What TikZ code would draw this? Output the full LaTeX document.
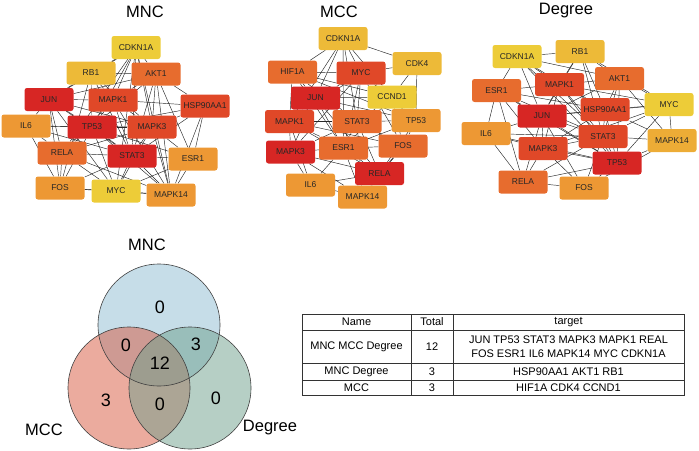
\documentclass[tikz,border=0pt]{standalone}
\usepackage{fontspec}
\setmainfont{Liberation Sans}
\usetikzlibrary{backgrounds}
\definecolor{hub1}{RGB}{215,38,36}
\definecolor{hub2}{RGB}{224,72,40}
\definecolor{hub3}{RGB}{231,108,46}
\definecolor{hub4}{RGB}{237,152,52}
\definecolor{hub5}{RGB}{237,186,56}
\definecolor{hub6}{RGB}{237,204,56}
\definecolor{setmnc}{RGB}{141,187,209}
\definecolor{setmcc}{RGB}{215,88,62}
\definecolor{setdeg}{RGB}{110,160,140}
\tikzset{gene/.style = {rectangle, rounded corners=2.5pt, minimum width=49pt, minimum height=23pt, inner sep=1pt, font=\fontsize{8.5}{9}\selectfont, text=black!85}}
\tikzset{link/.style = {black!85, line width=0.45pt}}
\tikzset{title/.style = {font=\fontsize{16.5}{18}\selectfont}}
\tikzset{count/.style = {font=\fontsize{18}{20}\selectfont}}
\tikzset{cell/.style = {font=\fontsize{11}{14}\selectfont, align=center}}

\begin{document}
\begin{tikzpicture}[x=1pt, y=-1pt]
        \useasboundingbox (0,0) rectangle (699,450);

        % MNC
        \node [title] (t-mnc) at (145,12) {MNC};
        \node [gene, fill=hub6] (mnc-cdk) at (136,47.5) {CDKN1A};
        \node [gene, fill=hub5] (mnc-rb) at (91,73) {RB1};
        \node [gene, fill=hub3] (mnc-akt) at (156,74) {AKT1};
        \node [gene, fill=hub1] (mnc-jun) at (49,99.5) {JUN};
        \node [gene, fill=hub2] (mnc-mk1) at (113,100) {MAPK1};
        \node [gene, fill=hub2] (mnc-hsp) at (205,106) {HSP90AA1};
        \node [gene, fill=hub4] (mnc-il6) at (26,126) {IL6};
        \node [gene, fill=hub1] (mnc-tp) at (92,127) {TP53};
        \node [gene, fill=hub2] (mnc-mk3) at (152,127) {MAPK3};
        \node [gene, fill=hub3] (mnc-rela) at (62,153) {RELA};
        \node [gene, fill=hub1] (mnc-st3) at (132,156) {STAT3};
        \node [gene, fill=hub4] (mnc-esr) at (193,159) {ESR1};
        \node [gene, fill=hub4] (mnc-fos) at (60,188) {FOS};
        \node [gene, fill=hub6] (mnc-myc) at (116,191) {MYC};
        \node [gene, fill=hub4] (mnc-mk14) at (171,195) {MAPK14};

        \begin{scope}[on background layer]
            \foreach \a/\b in {cdk/rb, cdk/akt, cdk/mk1, cdk/tp, cdk/mk3, cdk/st3, cdk/myc, cdk/mk14, cdk/jun, cdk/rela,
                    rb/akt, rb/jun, rb/mk1, rb/tp, rb/st3, rb/mk3, rb/fos,
                    akt/mk1, akt/hsp, akt/mk3, akt/tp, akt/st3, akt/esr, akt/mk14, akt/jun,
                    jun/mk1, jun/il6, jun/tp, jun/rela, jun/st3, jun/fos, jun/mk3, jun/myc,
                    mk1/tp, mk1/mk3, mk1/hsp, mk1/st3, mk1/rela, mk1/mk14,
                    hsp/mk3, hsp/esr, hsp/mk14, hsp/st3, hsp/tp,
                    il6/tp, il6/rela, il6/fos, il6/st3, il6/mk3,
                    tp/mk3, tp/rela, tp/st3, tp/fos, tp/myc, tp/mk14, tp/esr,
                    mk3/st3, mk3/esr, mk3/mk14, mk3/myc, mk3/rela,
                    rela/st3, rela/fos, rela/myc, rela/mk14,
                    st3/esr, st3/myc, st3/mk14, st3/fos,
                    esr/mk14, esr/myc, fos/myc, fos/mk14, myc/mk14}
                \draw [link] (mnc-\a) -- (mnc-\b);
        \end{scope}

        % MCC
        \node [title] (t-mcc) at (339,12) {MCC};
        \node [gene, fill=hub5] (mcc-cdk) at (343,38.5) {CDKN1A};
        \node [gene, fill=hub5] (mcc-cdk4) at (417,63.5) {CDK4};
        \node [gene, fill=hub3] (mcc-hif) at (292.5,72) {HIF1A};
        \node [gene, fill=hub2] (mcc-myc) at (361,73) {MYC};
        \node [gene, fill=hub1] (mcc-jun) at (315.5,98) {JUN};
        \node [gene, fill=hub6] (mcc-ccnd) at (392,97) {CCND1};
        \node [gene, fill=hub2] (mcc-mk1) at (289.5,121.5) {MAPK1};
        \node [gene, fill=hub3] (mcc-st3) at (357,121.5) {STAT3};
        \node [gene, fill=hub4] (mcc-tp) at (416,120.5) {TP53};
        \node [gene, fill=hub1] (mcc-mk3) at (290.5,152) {MAPK3};
        \node [gene, fill=hub3] (mcc-esr) at (343.5,148) {ESR1};
        \node [gene, fill=hub3] (mcc-fos) at (403,146) {FOS};
        \node [gene, fill=hub1] (mcc-rela) at (379.5,173.5) {RELA};
        \node [gene, fill=hub4] (mcc-il6) at (310.5,185) {IL6};
        \node [gene, fill=hub4] (mcc-mk14) at (362.5,197) {MAPK14};

        \begin{scope}[on background layer]
            \foreach \a/\b in {cdk/hif, cdk/myc, cdk/jun, cdk/cdk4, cdk/st3, cdk/esr, cdk/ccnd, cdk/mk1,
                    cdk4/myc, cdk4/ccnd, cdk4/tp,
                    hif/myc, hif/jun, hif/st3, hif/ccnd, hif/esr, hif/mk1, hif/tp,
                    myc/jun, myc/ccnd, myc/st3, myc/esr, myc/tp, myc/fos, myc/mk3, myc/mk1,
                    jun/mk1, jun/st3, jun/esr, jun/mk3, jun/ccnd, jun/fos, jun/rela, jun/tp,
                    ccnd/st3, ccnd/tp, ccnd/fos, ccnd/esr,
                    mk1/mk3, mk1/st3, mk1/esr, mk1/il6, mk1/rela, mk1/fos,
                    st3/tp, st3/esr, st3/fos, st3/mk3, st3/rela, st3/mk14,
                    tp/fos, tp/esr, tp/rela,
                    mk3/esr, mk3/il6, mk3/rela, mk3/mk14,
                    esr/fos, esr/rela, esr/mk14, esr/il6,
                    fos/rela, fos/mk14, rela/mk14, rela/il6, il6/mk14}
                \draw [link] (mcc-\a) -- (mcc-\b);
        \end{scope}

        % Degree
        \node [title] (t-deg) at (566,11) {Degree};
        \node [gene, fill=hub6] (deg-cdk) at (517,56.5) {CDKN1A};
        \node [gene, fill=hub5] (deg-rb) at (580,51.5) {RB1};
        \node [gene, fill=hub3] (deg-akt) at (619.5,78.5) {AKT1};
        \node [gene, fill=hub2] (deg-mk1) at (559.5,84.5) {MAPK1};
        \node [gene, fill=hub3] (deg-esr) at (496.5,90.5) {ESR1};
        \node [gene, fill=hub6] (deg-myc) at (669,104.5) {MYC};
        \node [gene, fill=hub2] (deg-hsp) at (605,109.5) {HSP90AA1};
        \node [gene, fill=hub1] (deg-jun) at (542,116) {JUN};
        \node [gene, fill=hub4] (deg-il6) at (486,133.5) {IL6};
        \node [gene, fill=hub2] (deg-st3) at (603,136.5) {STAT3};
        \node [gene, fill=hub5!60!hub4] (deg-mk14) at (672,140.5) {MAPK14};
        \node [gene, fill=hub2] (deg-mk3) at (543,148.5) {MAPK3};
        \node [gene, fill=hub1] (deg-tp) at (617,163) {TP53};
        \node [gene, fill=hub3] (deg-rela) at (523,182) {RELA};
        \node [gene, fill=hub4] (deg-fos) at (584,188) {FOS};

        \begin{scope}[on background layer]
            \foreach \a/\b in {cdk/rb, cdk/mk1, cdk/jun, cdk/hsp, cdk/akt, cdk/st3, cdk/tp, cdk/esr,
                    rb/mk1, rb/akt, rb/hsp, rb/jun, rb/myc, rb/st3,
                    akt/mk1, akt/hsp, akt/myc, akt/st3, akt/jun, akt/mk14, akt/tp,
                    mk1/esr, mk1/jun, mk1/hsp, mk1/st3, mk1/myc, mk1/mk3, mk1/tp,
                    esr/jun, esr/hsp, esr/il6, esr/mk3, esr/st3, esr/rela, esr/tp,
                    myc/hsp, myc/st3, myc/mk14, myc/tp, myc/jun, myc/mk3,
                    hsp/jun, hsp/st3, hsp/mk14, hsp/mk3, hsp/tp,
                    jun/il6, jun/st3, jun/mk3, jun/tp, jun/rela, jun/fos,
                    il6/mk3, il6/rela, il6/st3, il6/tp,
                    st3/mk3, st3/tp, st3/mk14, st3/fos, st3/rela,
                    mk14/tp, mk14/fos, mk3/rela, mk3/fos, mk3/tp,
                    tp/fos, tp/rela, rela/fos}
                \draw [link] (deg-\a) -- (deg-\b);
        \end{scope}

        % Venn
        \fill [setmnc, fill opacity=0.5] (159,325) circle [radius=61pt];
        \fill [setmcc, fill opacity=0.5] (129,388) circle [radius=61pt];
        \fill [setdeg, fill opacity=0.5] (190,388) circle [radius=61pt];
        \draw [black!75, line width=0.6pt] (159,325) circle [radius=61pt];
        \draw [black!75, line width=0.6pt] (129,388) circle [radius=61pt];
        \draw [black!75, line width=0.6pt] (190,388) circle [radius=61pt];

        \node [title] (v-mnc) at (147,245) {MNC};
        \node [title] (v-mcc) at (44,430) {MCC};
        \node [title] (v-deg) at (270,428) {Degree};
        \node [count] (n-a) at (160,307) {0};
        \node [count] (n-ab) at (126,345) {0};
        \node [count] (n-ac) at (196,344) {3};
        \node [count] (n-abc) at (160,363) {12};
        \node [count] (n-b) at (106,400) {3};
        \node [count] (n-bc) at (160,404) {0};
        \node [count] (n-c) at (216,398) {0};

        % table
        \draw [black!80, line width=0.7pt] (302,314) rectangle (684,395);
        \draw [black!80, line width=0.7pt] (302,330) -- (684,330);
        \draw [black!80, line width=0.7pt] (302,363) -- (684,363);
        \draw [black!80, line width=0.7pt] (302,380) -- (684,380);
        \draw [black!80, line width=0.7pt] (411,314) -- (411,395);
        \draw [black!80, line width=0.7pt] (453,314) -- (453,395);

        \node [cell] (h-name) at (356.5,322) {Name};
        \node [cell] (h-total) at (432,322) {Total};
        \node [cell] (h-target) at (568.5,322) {target};
        \node [cell] (r1-name) at (356.5,346.5) {MNC MCC Degree};
        \node [cell] (r1-total) at (432,346.5) {12};
        \node [cell] (r1-target) at (568.5,346.5) {JUN TP53 STAT3 MAPK3 MAPK1 REAL\\FOS ESR1 IL6 MAPK14 MYC CDKN1A};
        \node [cell] (r2-name) at (356.5,371.5) {MNC Degree};
        \node [cell] (r2-total) at (432,371.5) {3};
        \node [cell] (r2-target) at (568.5,371.5) {HSP90AA1 AKT1 RB1};
        \node [cell] (r3-name) at (356.5,387.5) {MCC};
        \node [cell] (r3-total) at (432,387.5) {3};
        \node [cell] (r3-target) at (568.5,387.5) {HIF1A CDK4 CCND1};
\end{tikzpicture}
\end{document}
